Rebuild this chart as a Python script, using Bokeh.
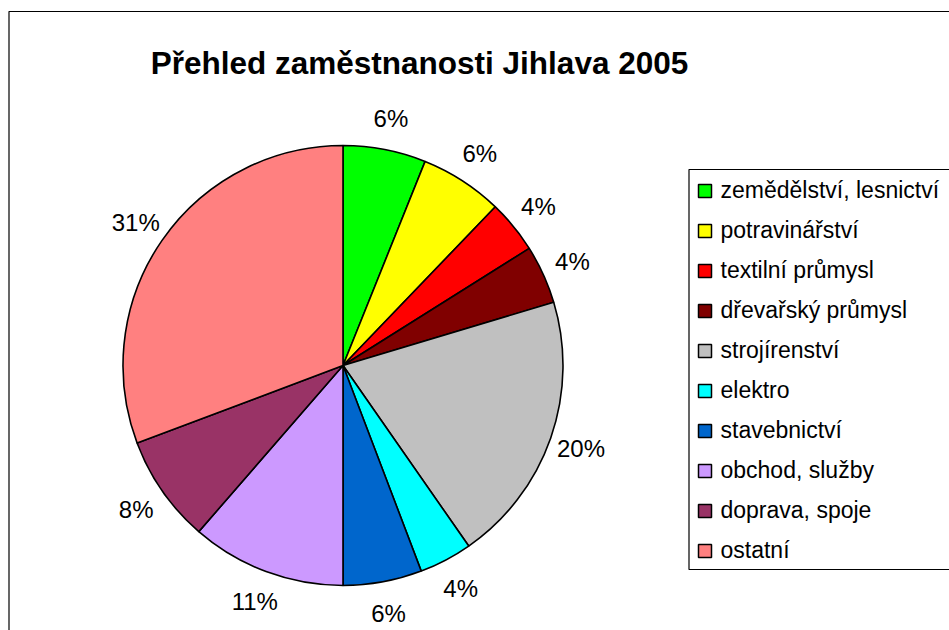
import math
from bokeh.plotting import figure
from bokeh.models import ColumnDataSource, Range1d
from bokeh.core.properties import value
from bokeh.embed import file_html
from bokeh.resources import INLINE

# ---- data ----
categories = ["zemědělství, lesnictví", "potravinářství", "textilní průmysl",
              "dřevařský průmysl", "strojírenství", "elektro", "stavebnictví",
              "obchod, služby", "doprava, spoje", "ostatní"]
shares = [6.1, 6.1, 3.9, 4.3, 20.0, 3.9, 5.8, 11.4, 7.9, 30.8]
colors = ["#00FF00", "#FFFF00", "#FF0000", "#800000", "#C0C0C0",
          "#00FFFF", "#0066CC", "#CC99FF", "#993366", "#FF8080"]
title_text = "Přehled zaměstnanosti Jihlava 2005"

# ---- layout (screen pixel coordinates) ----
W, H = 949, 630
def Y(py):
    return H - py

CX, CY, R = 342.5, 365.0, 220.0
LABEL_R = 252.0
FONT = "Liberation Sans"

total = sum(shares)
fr = [s / total for s in shares]
starts, ends, mids = [], [], []
c = 0.0
for f in fr:
    starts.append(math.pi / 2 - 2 * math.pi * c)
    ends.append(math.pi / 2 - 2 * math.pi * (c + f))
    mids.append(2 * math.pi * (c + f / 2))  # clockwise from top
    c += f

lab_x = [CX + LABEL_R * math.sin(a) for a in mids]
lab_y = [Y(CY - LABEL_R * math.cos(a)) for a in mids]
lab_t = [f"{round(s / total * 100)}%" for s in shares]

p = figure(width=W, height=H, output_backend="svg", toolbar_location=None,
           x_range=Range1d(0, W), y_range=Range1d(0, H),
           min_border=0, border_fill_color="white", background_fill_color="white")
p.axis.visible = False
p.grid.visible = False
p.outline_line_color = None

# chart frame
p.quad(left=[8.5], right=[2000], top=[Y(11)], bottom=[-1000],
       fill_color=None, line_color="#000000", line_width=1.2)

src = ColumnDataSource(dict(start=starts, end=ends, color=colors))
p.wedge(x=CX, y=Y(CY), radius=R, start_angle="start", end_angle="end",
        direction="clock", fill_color="color", line_color="black",
        line_width=1.6, source=src)

p.text(x=lab_x, y=lab_y, text=lab_t, text_align="center",
       text_baseline="middle", text_font=value(FONT),
       text_font_size="24px", text_color="black")

# title
p.text(x=[419], y=[Y(62)], text=[title_text], text_align="center",
       text_baseline="middle", text_font=value(FONT),
       text_font_size="31.5px", text_font_style="bold", text_color="black")

# legend
LX, LTOP, LBOT = 688.5, 169, 569
ROW0, ROWH = 190.5, 40
p.quad(left=[LX], right=[2000], top=[Y(LTOP)], bottom=[Y(LBOT)],
       fill_color="white", line_color="#000000", line_width=1.2)
rows_y = [ROW0 + ROWH * i for i in range(len(categories))]
p.rect(x=[704.5] * len(categories), y=[Y(r) for r in rows_y], width=13, height=13,
       fill_color=colors, line_color="black", line_width=1.5)
p.text(x=[720] * len(categories), y=[Y(r - 1) for r in rows_y], text=categories,
       text_align="left", text_baseline="middle", text_font=value(FONT),
       text_font_size="23px", text_color="black")

open("out.html", "w").write(file_html(p, INLINE))
